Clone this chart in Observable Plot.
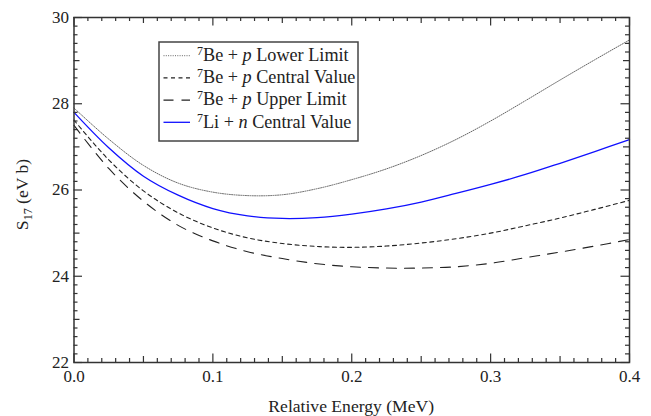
<!DOCTYPE html>
<html>
<head>
<meta charset="utf-8">
<script src="https://cdn.jsdelivr.net/npm/d3@7"></script>
<script src="https://cdn.jsdelivr.net/npm/@observablehq/plot@0.6"></script>
<style>
  html, body { margin: 0; padding: 0; background: #fff; }
  #chart { width: 651px; height: 416px; }
</style>
</head>
<body>
<div id="chart"></div>
<script>
// ---- data ----
const energy = [0, 0.025, 0.05, 0.075, 0.1, 0.125, 0.15, 0.175, 0.2, 0.225, 0.25, 0.275, 0.3, 0.325, 0.35, 0.375, 0.4];
const beLower   = [27.90, 27.18, 26.57, 26.16, 25.95, 25.87, 25.89, 26.03, 26.24, 26.49, 26.80, 27.17, 27.60, 28.07, 28.55, 29.02, 29.48];
const beCentral = [27.62, 26.70, 25.98, 25.47, 25.12, 24.89, 24.76, 24.69, 24.67, 24.70, 24.77, 24.87, 25.00, 25.17, 25.35, 25.55, 25.76];
const beUpper   = [27.50, 26.50, 25.74, 25.18, 24.82, 24.57, 24.41, 24.29, 24.22, 24.19, 24.19, 24.22, 24.30, 24.43, 24.56, 24.70, 24.85];
const liCentral = [27.80, 26.98, 26.32, 25.88, 25.57, 25.40, 25.34, 25.36, 25.44, 25.56, 25.72, 25.92, 26.13, 26.36, 26.62, 26.89, 27.17];

const xTicks = [0, 0.1, 0.2, 0.3, 0.4];
const xTickLabels = ["0.0", "0.1", "0.2", "0.3", "0.4"];
const yTicks = [22, 24, 26, 28, 30];
const yTickLabels = ["22", "24", "26", "28", "30"];

const seriesNames = ["Lower Limit", "Central Value", "Upper Limit", "Central Value"];
const seriesPrefix = ["Be + ", "Be + ", "Be + ", "Li + "];
const seriesItalic = ["p", "p", "p", "n"];

// ---- layout ----
const W = 651, H = 416;
const mL = 73.5, mR = 22, mT = 17, mB = 54;
const innerW = W - mL - mR, innerH = H - mT - mB;
const axisColor = "#333";
const font = "Liberation Serif";

const toRows = (ys) => energy.map((e, i) => ({e, s: ys[i]}));

// minor / medium tick positions
const xMinor = d3.range(0, 41).map(i => i / 100).filter((d, i) => i % 5 !== 0);
const xMedium = [0.05, 0.15, 0.25, 0.35];
const yMinor = d3.range(0, 41).map(i => 22 + i / 5).filter((d, i) => i % 5 !== 0);
const yMedium = [23, 25, 27, 29];

function tickMarksX(vals, len) {
  return [
    Plot.tickX(vals, {x: d => d, insetTop: innerH - len, stroke: axisColor, strokeWidth: 1.2}),
    Plot.tickX(vals, {x: d => d, insetBottom: innerH - len, stroke: axisColor, strokeWidth: 1.2})
  ];
}
function tickMarksY(vals, len) {
  return [
    Plot.tickY(vals, {y: d => d, insetRight: innerW - len, stroke: axisColor, strokeWidth: 1.2}),
    Plot.tickY(vals, {y: d => d, insetLeft: innerW - len, stroke: axisColor, strokeWidth: 1.2})
  ];
}

const styles = [
  {stroke: "#555", strokeWidth: 0.9, strokeDasharray: "1,1.3"},
  {stroke: "#222", strokeWidth: 1.1, strokeDasharray: "4,3.5"},
  {stroke: "#222", strokeWidth: 1.1, strokeDasharray: "10,8"},
  {stroke: "#1010ff", strokeWidth: 1.3}
];
const seriesData = [beLower, beCentral, beUpper, liCentral];

const chart = Plot.plot({
  width: W, height: H,
  marginLeft: mL, marginRight: mR, marginTop: mT, marginBottom: mB,
  x: {domain: [0, 0.4]},
  y: {domain: [22, 30]},
  style: {fontFamily: font, fontSize: "17px", color: "#222", background: "#fff"},
  marks: [
    ...seriesData.map((ys, i) => Plot.line(toRows(ys), {x: "e", y: "s", curve: "catmull-rom", ...styles[i]})),
    ...tickMarksX(xMinor, 4),
    ...tickMarksX(xMedium, 6),
    ...tickMarksX(xTicks, 8.5),
    ...tickMarksY(yMinor, 4),
    ...tickMarksY(yMedium, 6),
    ...tickMarksY(yTicks, 8.5),
    Plot.axisX(xTicks, {tickSize: 0, tickPadding: 7, tickFormat: (d, i) => xTickLabels[i], label: null, fontSize: 17, fontFamily: font, fill: "#222"}),
    Plot.axisY(yTicks, {tickSize: 0, tickPadding: 5, tickFormat: (d, i) => yTickLabels[i], label: null, fontSize: 17, fontFamily: font, fill: "#222"}),
    Plot.frame({stroke: axisColor, strokeWidth: 1.5})
  ]
});
document.getElementById("chart").appendChild(chart);

// ---- axis titles and legend ----
const svg = d3.select(chart).attr("font-family", font);

svg.append("text")
  .attr("x", mL + innerW / 2).attr("y", 411.5)
  .attr("text-anchor", "middle")
  .attr("font-family", font).attr("font-size", 17.6).attr("fill", "#222")
  .text("Relative Energy (MeV)");

const yl = svg.append("text")
  .attr("transform", `translate(27.5,${mT + innerH / 2 + 5}) rotate(-90)`)
  .attr("text-anchor", "middle")
  .attr("font-family", font).attr("font-size", 17.6).attr("fill", "#222");
yl.append("tspan").text("S");
yl.append("tspan").attr("font-size", 12).attr("dy", 4).text("17");
yl.append("tspan").attr("dy", -4).text(" (eV b)");

const lg = svg.append("g").attr("text-anchor", "start");
lg.append("rect")
  .attr("x", 159).attr("y", 42).attr("width", 199).attr("height", 99)
  .attr("fill", "#fff").attr("stroke", "#444").attr("stroke-width", 1.5);
seriesNames.forEach((name, i) => {
  const cy = 55.7 + i * 22.2;
  const st = styles[i];
  lg.append("line")
    .attr("x1", 163.5).attr("x2", 190).attr("y1", cy).attr("y2", cy)
    .attr("stroke", st.stroke).attr("stroke-width", st.strokeWidth)
    .attr("stroke-dasharray", st.strokeDasharray || null);
  const t = lg.append("text")
    .attr("x", 197).attr("y", cy + 5.2)
    .attr("text-anchor", "start")
    .attr("font-family", font).attr("font-size", 18.2).attr("fill", "#222");
  t.append("tspan").attr("font-size", 12).attr("dy", -6).text("7");
  t.append("tspan").attr("dy", 6).text(seriesPrefix[i]);
  t.append("tspan").attr("font-style", "italic").text(seriesItalic[i]);
  t.append("tspan").text(" " + name);
});
</script>
</body>
</html>
